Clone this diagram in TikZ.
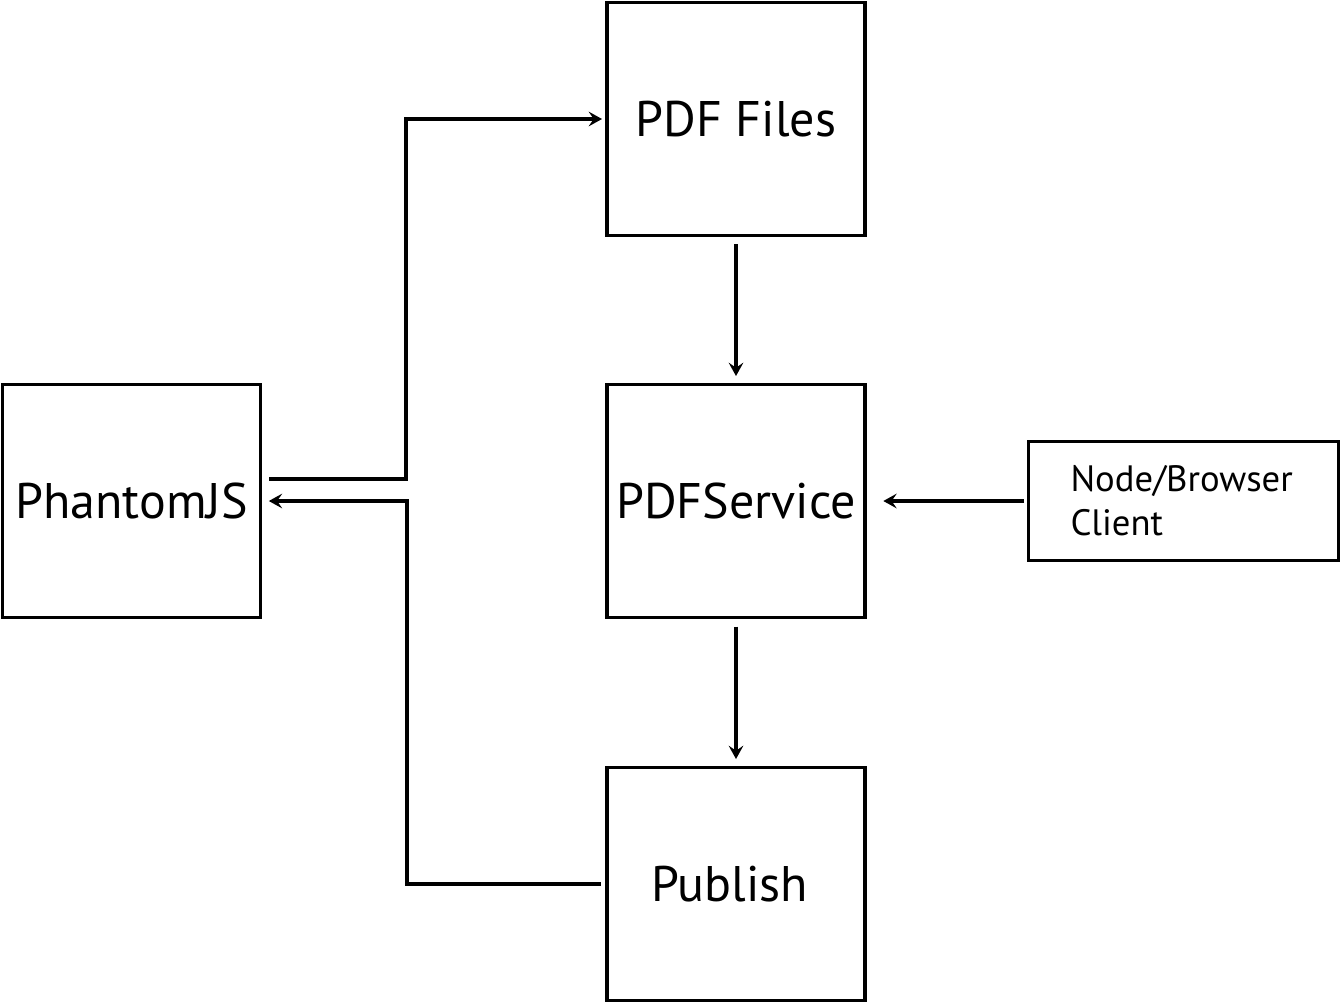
\documentclass[tikz,border=0pt]{standalone}
\usepackage{fontspec}
\setmainfont{PT Sans}
\usetikzlibrary{arrows.meta,calc}
\begin{document}
\begin{tikzpicture}[x=0.75pt,y=-0.75pt,
  box/.style={draw,line width=2.5pt,minimum width=193.5pt,minimum height=175pt,inner sep=0pt,font=\fontsize{37.5}{44}\selectfont},
  conn/.style={line width=2.6pt,-{Stealth[length=10pt,width=11pt,inset=3.8pt]}}]
\useasboundingbox (0,0) rectangle (1341,1004);
\node[box] (ph) at (131.5,501) {PhantomJS};
\node[box] (pdf) at (736,119) {PDF Files};
\node[box] (svc) at (736,501) {PDFService};
\node[box,label={[xshift=-4.5pt,font=\fontsize{37.5}{44}\selectfont]center:Publish}] (pub) at (736,884) {};
\node[draw,line width=2.5pt,minimum width=232.5pt,minimum height=89.25pt,text width=169.5pt,inner xsep=31.5pt,align=left,font=\fontsize{27.5}{33}\selectfont] (cli) at (1183.5,501) {Node/Browser\\Client};
\coordinate (j1) at (406,300);
\coordinate (j2) at (407,700);
\draw[conn,shorten >=2.5pt] ($(ph.east)+(7,-22)$) -| (j1) |- (pdf.west);
\draw[conn,shorten <=3.5pt,shorten >=5pt] (pub.west) -| (j2) |- (ph.east);
\draw[conn,shorten <=5pt,shorten >=5pt] (pdf.south) -- (svc.north);
\draw[conn,shorten <=5.5pt,shorten >=5pt] (svc.south) -- (pub.north);
\draw[conn,shorten <=2pt,shorten >=12.5pt] (cli.west) -- (svc.east);
\end{tikzpicture}
\end{document}
